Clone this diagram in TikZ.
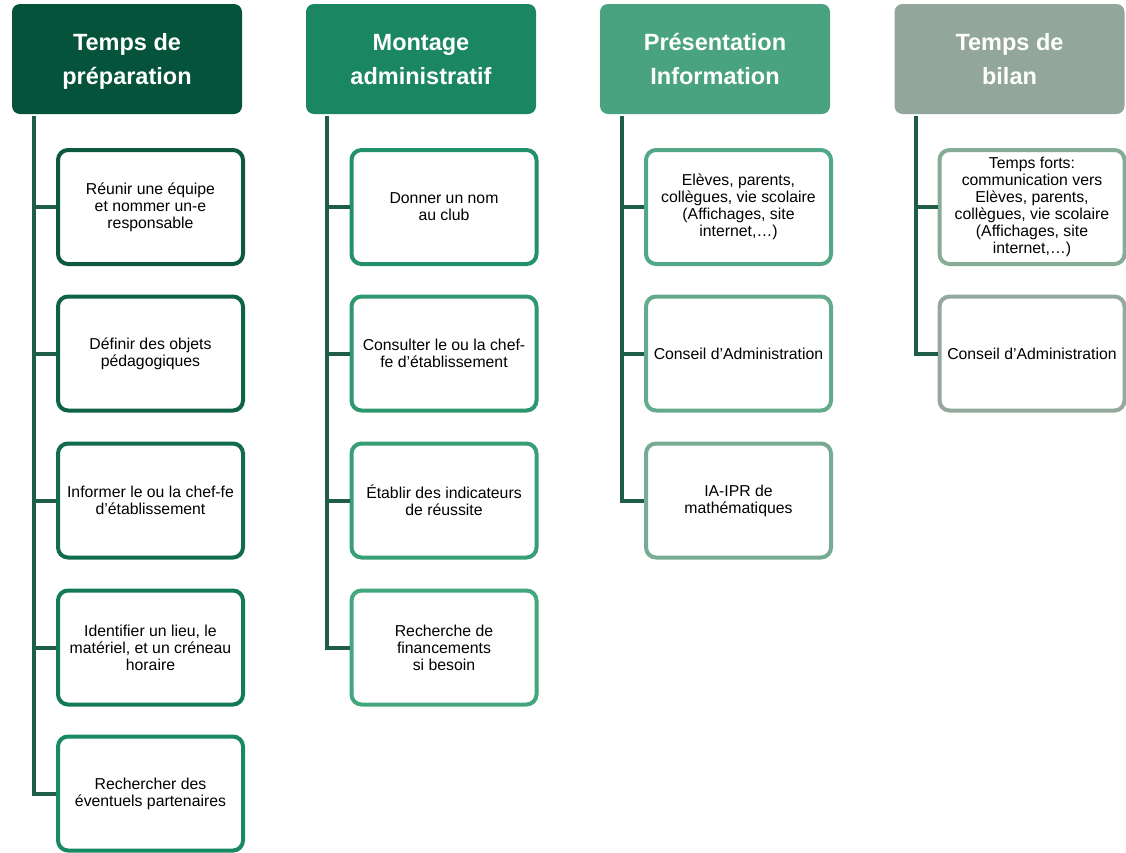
\documentclass[tikz,border=0pt]{standalone}
\usepackage{fontspec}
\setmainfont{Liberation Sans}
\definecolor{hA}{HTML}{05533B}
\definecolor{hB}{HTML}{1B8762}
\definecolor{hC}{HTML}{4AA380}
\definecolor{hD}{HTML}{93A69B}
\definecolor{conn}{HTML}{1E5E48}
\definecolor{a1}{HTML}{0C5840}
\definecolor{a2}{HTML}{0E6247}
\definecolor{a3}{HTML}{116C4E}
\definecolor{a4}{HTML}{137A57}
\definecolor{a5}{HTML}{178A62}
\definecolor{b1}{HTML}{22916A}
\definecolor{b2}{HTML}{2D9870}
\definecolor{b3}{HTML}{389E76}
\definecolor{b4}{HTML}{44A67D}
\definecolor{c1}{HTML}{52A886}
\definecolor{c2}{HTML}{64AA8C}
\definecolor{c3}{HTML}{78AB93}
\definecolor{d1}{HTML}{86AC98}
\definecolor{d2}{HTML}{95A89D}
\tikzset{
  head/.style={fill=#1, draw=none, rounded corners=8pt, minimum width=230pt, minimum height=110pt,
    text=white, font=\fontsize{23.5}{34}\selectfont\bfseries, align=center, inner sep=0pt,
    text depth=0pt},
  item/.style={draw=#1, fill=white, line width=4pt, rounded corners=10pt, minimum width=185pt,
    minimum height=114pt, align=center, font=\fontsize{15.8}{17}\selectfont,
    text=black, inner sep=0pt},
  trunk/.style={draw=conn, line width=4pt},
}
\begin{document}
\begin{tikzpicture}[x=1pt,y=-1pt]
\useasboundingbox (0,0) rectangle (1126,852);
% headers
\node[head=hA] (h1) at (127,59) {Temps de\\préparation};
\node[head=hB] (h2) at (421,59) {Montage\\administratif};
\node[head=hC] (h3) at (715,59) {Présentation\\Information};
\node[head=hD] (h4) at (1009.5,59) {Temps de\\bilan};
% trunk anchors
\coordinate (t1) at (34,116);
\coordinate (t2) at (327,116);
\coordinate (t3) at (622,116);
\coordinate (t4) at (916,116);
% column 1
\node[item=a1] (a1) at (150.5,207) {Réunir une équipe\\et nommer un-e\\responsable};
\node[item=a2] (a2) at (150.5,353.5) {Définir des objets\\pédagogiques};
\node[item=a3] (a3) at (150.5,500.5) {Informer le ou la chef-fe\\d’établissement};
\node[item=a4] (a4) at (150.5,647.5) {Identifier un lieu, le\\matériel, et un créneau\\horaire};
\node[item=a5] (a5) at (150.5,793.5) {Rechercher des\\éventuels partenaires};
% column 2
\node[item=b1] (b1) at (444,207) {Donner un nom\\au club};
\node[item=b2] (b2) at (444,353.5) {Consulter le ou la chef-\\fe d’établissement};
\node[item=b3] (b3) at (444,500.5) {Établir des indicateurs\\de réussite};
\node[item=b4] (b4) at (444,647.5) {Recherche de\\financements\\si besoin};
% column 3
\node[item=c1] (c1) at (738.5,207) {Elèves, parents,\\collègues, vie scolaire\\(Affichages, site\\internet,…)};
\node[item=c2] (c2) at (738.5,353.5) {Conseil d’Administration};
\node[item=c3] (c3) at (738.5,500.5) {IA-IPR de\\mathématiques};
% column 4
\node[item=d1] (d1) at (1032,207) {Temps forts:\\communication vers\\Elèves, parents,\\collègues, vie scolaire\\(Affichages, site\\internet,…)};
\node[item=d2] (d2) at (1032,353.5) {Conseil d’Administration};
% connectors
\draw[trunk] (t1) |- (a5.west);
\foreach \n in {a1,a2,a3,a4} \draw[trunk] (t1 |- \n.west) -- (\n.west);
\draw[trunk] (t2) |- (b4.west);
\foreach \n in {b1,b2,b3} \draw[trunk] (t2 |- \n.west) -- (\n.west);
\draw[trunk] (t3) |- (c3.west);
\foreach \n in {c1,c2} \draw[trunk] (t3 |- \n.west) -- (\n.west);
\draw[trunk] (t4) |- (d2.west);
\draw[trunk] (t4 |- d1.west) -- (d1.west);
\end{tikzpicture}
\end{document}
